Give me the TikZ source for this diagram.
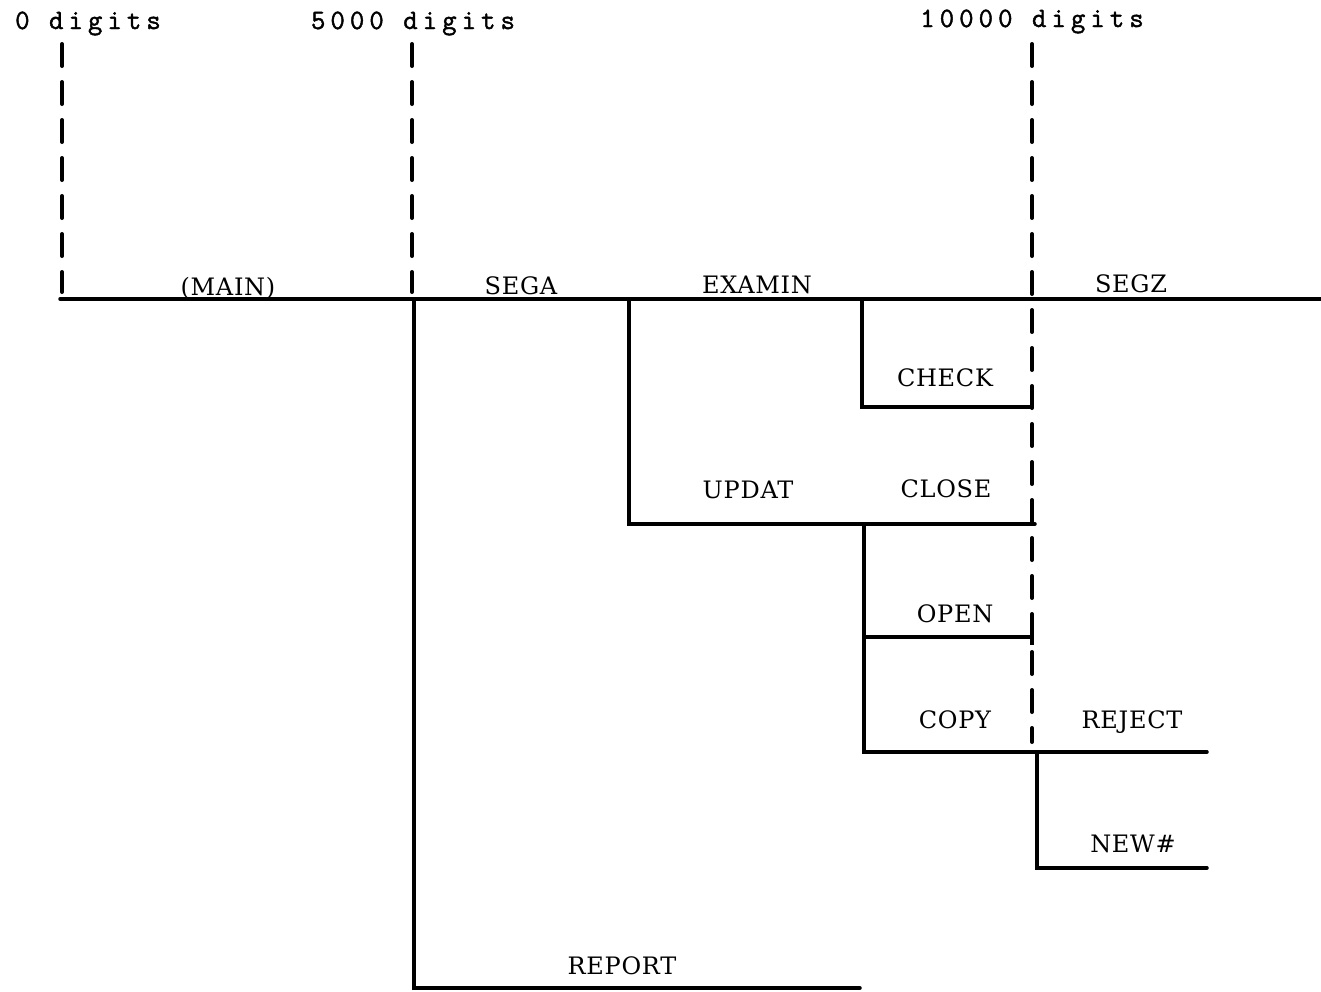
\documentclass[tikz,border=0pt]{standalone}
\usepackage{fontspec}
\setmainfont{DejaVu Serif}[LetterSpace=3]
\newfontfamily\tw{Latin Modern Mono}[LetterSpace=18,FakeBold=1.5]
\begin{document}
\begin{tikzpicture}[x=1pt,y=-1pt,
  lab/.style={font=\fontsize{24}{28}\selectfont, anchor=base, inner sep=0pt},
  toplab/.style={font=\tw\fontsize{28}{30}\selectfont, anchor=base, inner sep=0pt},
  wire/.style={line width=3.5pt, line cap=round, line join=miter},
  guide/.style={line width=4pt, line cap=round, dash pattern=on 22pt off 16pt}]
\useasboundingbox (0,0) rectangle (1321,991);

% top scale labels
\node[toplab] (d0) at (88,29) {0 digits};
\node[toplab] (d5) at (413,29) {5000 digits};
\node[toplab] (d10) at (1032,27) {10000 digits};

% guide coordinates
\coordinate (g0t) at (62,44);
\coordinate (g0b) at (62,292);
\coordinate (g5t) at (412,44);
\coordinate (g5b) at (412,292);
\coordinate (g10t) at (1032,44);
\coordinate (g10b) at (1032,742);

\draw[guide] (g0t) -- (g0b);
\draw[guide] (g5t) -- (g5b);
\draw[guide] (g10t) -- (g10b);

% junction coordinates
\coordinate (m0) at (60,299);
\coordinate (m1) at (1321,299);
\coordinate (ra) at (414,299);
\coordinate (rb) at (414,988);
\coordinate (rc) at (860,988);
\coordinate (ua) at (629,299);
\coordinate (ub) at (629,524);
\coordinate (uc) at (1035,524);
\coordinate (ca) at (862,299);
\coordinate (cb) at (862,407);
\coordinate (cc) at (1031,407);
\coordinate (oa) at (864,524);
\coordinate (ob) at (864,752);
\coordinate (oc) at (1207,752);
\coordinate (od) at (864,637);
\coordinate (oe) at (1032,637);
\coordinate (na) at (1037,752);
\coordinate (nb) at (1037,868);
\coordinate (nc) at (1207,868);

\draw[wire] (m0) -- (m1);
\draw[wire] (ra) -- (rb) -- (rc);
\draw[wire] (ua) -- (ub) -- (uc);
\draw[wire] (ca) -- (cb) -- (cc);
\draw[wire] (oa) -- (ob) -- (oc);
\draw[wire] (od) -- (oe);
\draw[line width=3.5pt] (1032,630) -- (1032,645);
\draw[wire] (na) -- (nb) -- (nc);

% labels
\node[lab] (main) at (228,295) {(MAIN)};
\node[lab] (sega) at (521,294) {SEGA};
\node[lab] (examin) at (757,293) {EXAMIN};
\node[lab] (segz) at (1131,292) {SEGZ};
\node[lab] (check) at (945,386) {CHECK};
\node[lab] (updat) at (748,498) {UPDAT};
\node[lab] (close) at (946,497) {CLOSE};
\node[lab] (open) at (955,622) {OPEN};
\node[lab] (copy) at (955,728) {COPY};
\node[lab] (reject) at (1132,728) {REJECT};
\node[lab] (new) at (1133,852) {NEW\#};
\node[lab] (report) at (622,974) {REPORT};
\end{tikzpicture}
\end{document}
